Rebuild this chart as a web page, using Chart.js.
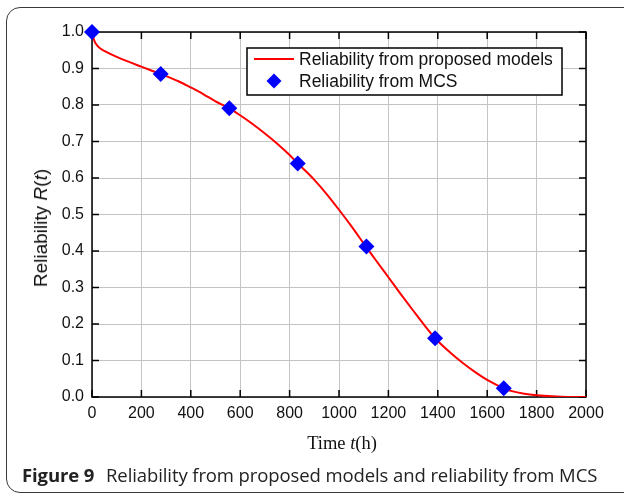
<!DOCTYPE html>
<html>
<head>
<meta charset="utf-8">
<script src="https://cdn.jsdelivr.net/npm/chart.js@4.4.1/dist/chart.umd.min.js"></script>
<style>
  html, body { margin: 0; padding: 0; background: #fff; }
  body { width: 624px; height: 497px; position: relative; overflow: hidden; }
  #frame {
    position: absolute; left: 6px; top: 7px; width: 640px; height: 486px;
    border: 1.5px solid #3a3a3a; border-radius: 14px; box-sizing: border-box;
  }
  #wrap { position: absolute; left: 0; top: 0; width: 624px; height: 497px; }
  .ytitle {
    position: absolute; left: 41px; top: 228px; transform: translate(-50%, -50%) rotate(-90deg);
    font-family: "Liberation Sans", Arial, sans-serif; font-size: 19px; color: #111; white-space: nowrap;
  }
  .xtitle {
    position: absolute; left: 342px; top: 443px; transform: translate(-50%, -50%);
    font-family: "Liberation Serif", "Times New Roman", serif; font-size: 18.5px; color: #111; white-space: nowrap;
  }
  .caption {
    position: absolute; left: 22px; top: 474px; transform: translateY(-50%);
    font-family: "Open Sans", "Noto Sans", sans-serif; font-size: 18.5px; color: #222; white-space: nowrap;
    letter-spacing: -0.1px;
  }
  .caption b { font-weight: 700; margin-right: 7px; }
</style>
</head>
<body>
<div id="frame"></div>
<div id="wrap"><canvas id="chart" width="624" height="497"></canvas></div>
<div class="ytitle">Reliability <i>R</i>(<i>t</i>)</div>
<div class="xtitle">Time <i>t</i>(h)</div>
<div class="caption"><b>Figure 9</b> Reliability from proposed models and reliability from MCS</div>
<script>
// curve from proposed models
const modelTime = [0, 10, 25, 50, 100, 150, 200, 278, 350, 400, 450, 500, 556, 600, 650, 700, 750, 800, 833,
  900, 950, 1000, 1050, 1111, 1150, 1200, 1250, 1300, 1350, 1389, 1450, 1500, 1550, 1600, 1667, 1700, 1750, 1800, 1900, 2000];
const modelR = [1.0, 0.975, 0.96, 0.948, 0.932, 0.918, 0.905, 0.885, 0.865, 0.848, 0.83, 0.81, 0.791, 0.772, 0.748, 0.722, 0.694, 0.663, 0.64,
  0.595, 0.556, 0.513, 0.468, 0.41, 0.374, 0.328, 0.282, 0.237, 0.193, 0.161, 0.122, 0.094, 0.069, 0.047, 0.024, 0.016, 0.009, 0.005, 0.001, 0.0];

// Monte Carlo simulation points
const mcsTime = [0, 278, 556, 833, 1111, 1389, 1667];
const mcsR = [1.0, 0.885, 0.791, 0.64, 0.412, 0.161, 0.024];

const xTicks = [0, 200, 400, 600, 800, 1000, 1200, 1400, 1600, 1800, 2000];
const yTicks = [0, 0.1, 0.2, 0.3, 0.4, 0.5, 0.6, 0.7, 0.8, 0.9, 1.0];

const legendLabels = ['Reliability from proposed models', 'Reliability from MCS'];

const tickFont = { family: '"Liberation Sans", Arial, sans-serif', size: 16 };

const framePlugin = {
  id: 'frame',
  beforeDatasetsDraw(chart) {
    const { ctx, chartArea: a, scales } = chart;
    ctx.save();
    ctx.strokeStyle = '#000';
    ctx.lineWidth = 1.5;
    const len = 7;
    xTicks.forEach(v => {
      const px = scales.x.getPixelForValue(v);
      ctx.beginPath();
      ctx.moveTo(px, a.bottom); ctx.lineTo(px, a.bottom - len);
      ctx.moveTo(px, a.top); ctx.lineTo(px, a.top + len);
      ctx.stroke();
    });
    yTicks.forEach(v => {
      const py = scales.y.getPixelForValue(v);
      ctx.beginPath();
      ctx.moveTo(a.left, py); ctx.lineTo(a.left + len, py);
      ctx.moveTo(a.right, py); ctx.lineTo(a.right - len, py);
      ctx.stroke();
    });
    ctx.strokeRect(a.left, a.top, a.right - a.left, a.bottom - a.top);
    ctx.restore();
  },
  afterDraw(chart) {
    // legend box drawn inside the plot
    const { ctx } = chart;
    const bx = 247, by = 48, bw = 315, bh = 47;
    ctx.save();
    ctx.fillStyle = '#fff';
    ctx.fillRect(bx, by, bw, bh);
    ctx.strokeStyle = '#000';
    ctx.lineWidth = 1.5;
    ctx.strokeRect(bx, by, bw, bh);
    ctx.strokeStyle = '#ff0000';
    ctx.lineWidth = 2;
    ctx.beginPath();
    ctx.moveTo(254, 59); ctx.lineTo(294, 59);
    ctx.stroke();
    ctx.fillStyle = '#0000ff';
    ctx.beginPath();
    ctx.moveTo(274, 73.5); ctx.lineTo(281.5, 81); ctx.lineTo(274, 88.5); ctx.lineTo(266.5, 81);
    ctx.closePath();
    ctx.fill();
    ctx.fillStyle = '#111';
    ctx.font = '17.5px "Liberation Sans", Arial, sans-serif';
    ctx.textBaseline = 'middle';
    ctx.fillText(legendLabels[0], 299, 60);
    ctx.fillText(legendLabels[1], 299, 82);
    ctx.restore();
  }
};

new Chart(document.getElementById('chart'), {
  type: 'line',
  data: {
    datasets: [
      {
        label: legendLabels[1],
        data: mcsTime.map((t, i) => ({ x: t, y: mcsR[i] })),
        showLine: false,
        pointStyle: 'rectRot',
        pointRadius: 8,
        pointBackgroundColor: '#0000ff',
        pointBorderColor: '#0000ff',
        pointBorderWidth: 0,
        clip: false,
        order: 0
      },
      {
        label: legendLabels[0],
        data: modelTime.map((t, i) => ({ x: t, y: modelR[i] })),
        borderColor: '#ff0000',
        borderWidth: 2,
        pointRadius: 0,
        cubicInterpolationMode: 'monotone',
        fill: false,
        order: 1
      }
    ]
  },
  options: {
    responsive: false,
    animation: false,
    layout: { padding: { left: 0, top: 32, right: 38, bottom: 0 } },
    plugins: { legend: { display: false }, tooltip: { enabled: false } },
    scales: {
      x: {
        type: 'linear', min: 0, max: 2000,
        afterFit(s) { s.height = 100; },
        afterBuildTicks(s) { s.ticks = xTicks.map(v => ({ value: v })); },
        grid: { color: '#c4c4c4', lineWidth: 1, drawTicks: false },
        border: { display: false },
        ticks: { font: tickFont, color: '#111', padding: 7, maxRotation: 0, callback: v => String(v) }
      },
      y: {
        min: 0, max: 1,
        afterFit(s) { s.width = 92; },
        afterBuildTicks(s) { s.ticks = yTicks.map(v => ({ value: v })); },
        grid: { color: '#c4c4c4', lineWidth: 1, drawTicks: false },
        border: { display: false },
        ticks: { font: tickFont, color: '#111', padding: 8, callback: v => v.toFixed(1) }
      }
    }
  },
  plugins: [framePlugin]
});
</script>
</body>
</html>
